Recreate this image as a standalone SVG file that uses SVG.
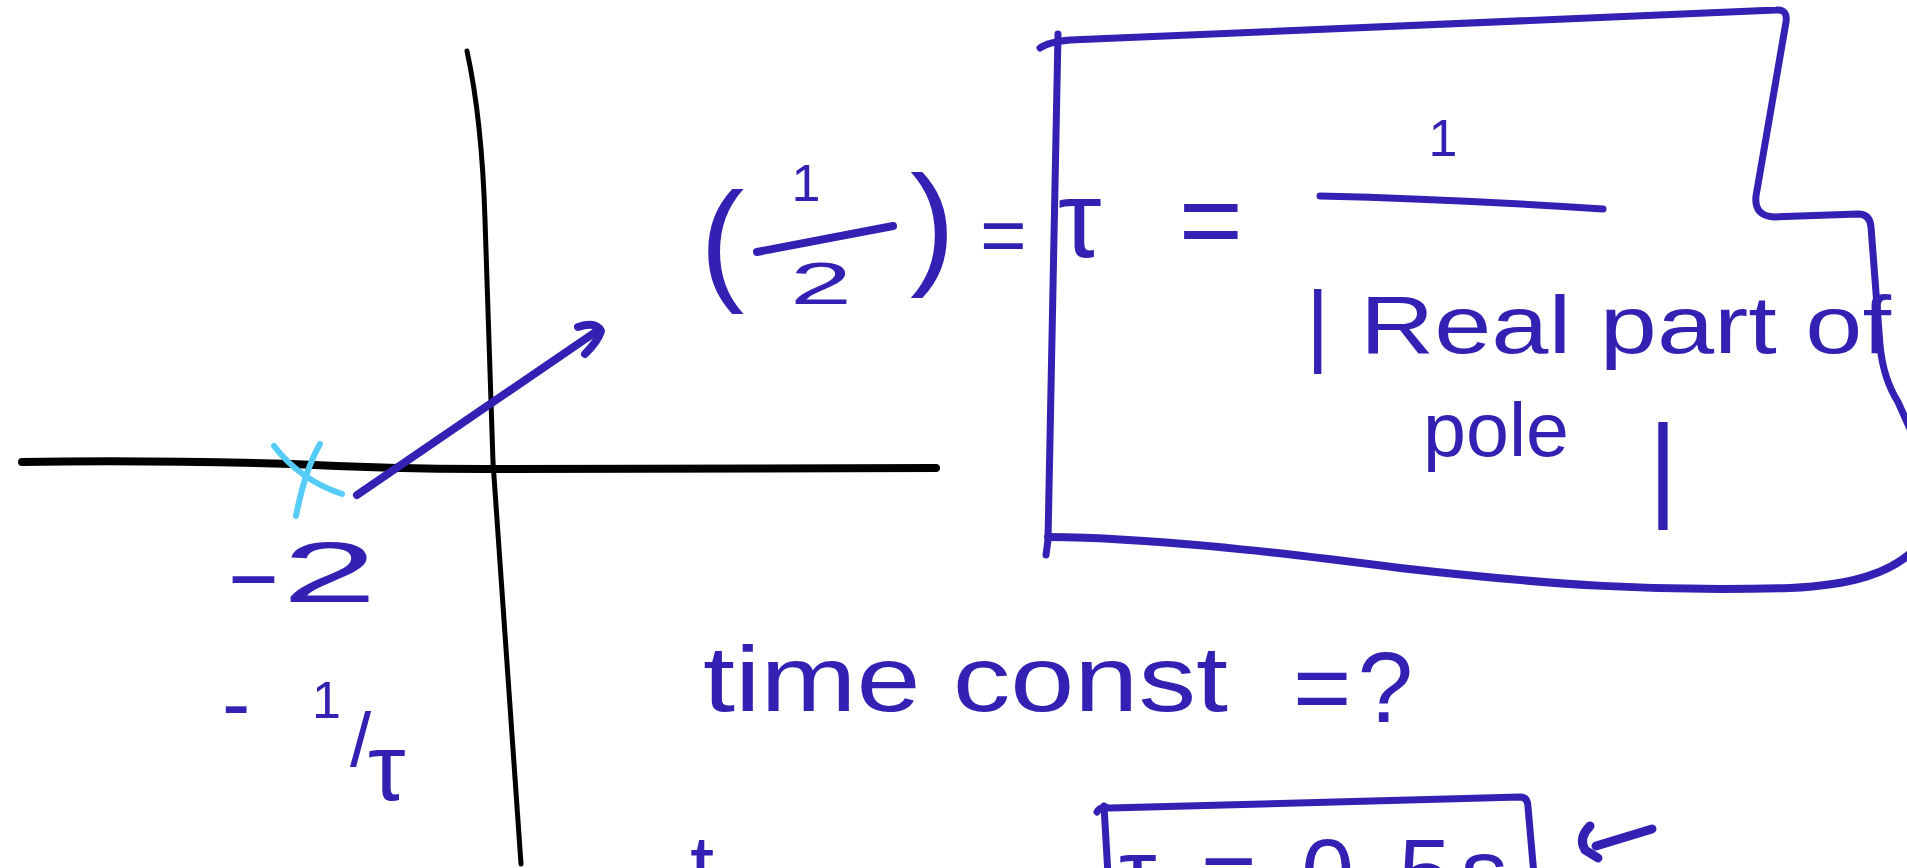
<svg xmlns="http://www.w3.org/2000/svg" width="1907" height="868" viewBox="0 0 1907 868">
  <style>
    .ink { fill: none; stroke: #3321b3; stroke-linecap: round; stroke-linejoin: round; }
    .axis { fill: none; stroke: #000; stroke-linecap: round; stroke-linejoin: round; }
    .hw { fill: #3321b3; font-family: "Liberation Sans", "DejaVu Sans", sans-serif; }
  </style>
  <rect width="1907" height="868" fill="#ffffff"/>

  <g id="axes">
    <path class="axis" d="M467,51 Q482,120 485,220 L493,462 L521,864" stroke-width="5"/>
    <path class="axis" d="M22,462 Q150,460 292,464 Q390,469 486,469 L936,468" stroke-width="8"/>
  </g>

  <g id="pole">
    <path d="M274,446 Q300,480 342,494" fill="none" stroke="#55ccf8" stroke-width="6" stroke-linecap="round"/>
    <path d="M320,444 Q305,470 296,516" fill="none" stroke="#55ccf8" stroke-width="6" stroke-linecap="round"/>
  </g>

  <g id="connectors">
    <path class="ink" d="M357,495 L597,331" stroke-width="8"/>
    <path class="ink" d="M578,327 Q596,321 601,331 Q598,341 585,354" stroke-width="8"/>
    <path class="ink" d="M1652,829 L1596,846" stroke-width="9"/>
    <path class="ink" d="M1590,826 Q1578,838 1585,850 L1598,858" stroke-width="9"/>
  </g>

  <g id="label-minus2">
    <text class="hw" x="225" y="602" font-size="85" textLength="152" lengthAdjust="spacingAndGlyphs">-2</text>
  </g>

  <g id="label-minus-inv-tau">
    <text class="hw" x="222" y="732" font-size="85">-</text>
    <text class="hw" x="312" y="718" font-size="52">1</text>
    <text class="hw" x="350" y="766" font-size="76">/</text>
    <text class="hw" x="368" y="800" font-size="95">τ</text>
  </g>

  <g id="half-equals">
    <text class="hw" x="700" y="286" font-size="133">(</text>
    <text class="hw" x="806" y="201" font-size="52" text-anchor="middle">1</text>
    <path class="ink" d="M757,252 L893,226" stroke-width="8"/>
    <text class="hw" x="790" y="304" font-size="60" textLength="62" lengthAdjust="spacingAndGlyphs">2</text>
    <text class="hw" x="910" y="270" font-size="136">)</text>
    <text class="hw" x="980" y="262" font-size="80">=</text>
  </g>

  <g id="tau-box">
    <path class="ink" d="M1040,48 Q1048,42 1070,40 L1776,10 Q1788,9 1786,22 L1756,196 Q1754,216 1774,217 L1858,214 Q1870,214 1871,227 L1880,345 Q1883,378 1898,402 L1915,440" stroke-width="7"/>
    <path class="ink" d="M1058,34 L1048,540 L1046,555" stroke-width="7"/>
    <path class="ink" d="M1048,537 C1150,538 1260,550 1400,568 C1550,585 1660,592 1790,588 C1855,585 1890,572 1912,552" stroke-width="8"/>
    <text class="hw" x="1058" y="257" font-size="110" textLength="185" lengthAdjust="spacing">τ =</text>
    <text class="hw" x="1443" y="156" font-size="52" text-anchor="middle">1</text>
    <path class="ink" d="M1320,196 Q1450,199 1603,209" stroke-width="7"/>
    <text class="hw" x="1306" y="355" font-size="90">|</text>
    <text class="hw" x="1360" y="353" font-size="82" textLength="531" lengthAdjust="spacingAndGlyphs">Real part of</text>
    <text class="hw" x="1423" y="456" font-size="76" textLength="146" lengthAdjust="spacingAndGlyphs">pole</text>
    <text class="hw" x="1648" y="505" font-size="115">|</text>
  </g>

  <g id="question">
    <text class="hw" x="703" y="711" font-size="92" textLength="525" lengthAdjust="spacingAndGlyphs">time const</text>
    <text class="hw" x="1293" y="722" font-size="100" textLength="120" lengthAdjust="spacing">=?</text>
  </g>

  <g id="answer-box">
    <path class="ink" d="M1097,812 Q1100,806 1110,808 L1520,797 Q1528,797 1528,807 L1534,875" stroke-width="7"/>
    <path class="ink" d="M1104,806 L1108,875" stroke-width="7"/>
    <text class="hw" x="1119" y="905" font-size="95" textLength="389" lengthAdjust="spacing">τ = 0.5s</text>
    <text class="hw" x="690" y="896" font-size="87">t</text>
  </g>
</svg>
